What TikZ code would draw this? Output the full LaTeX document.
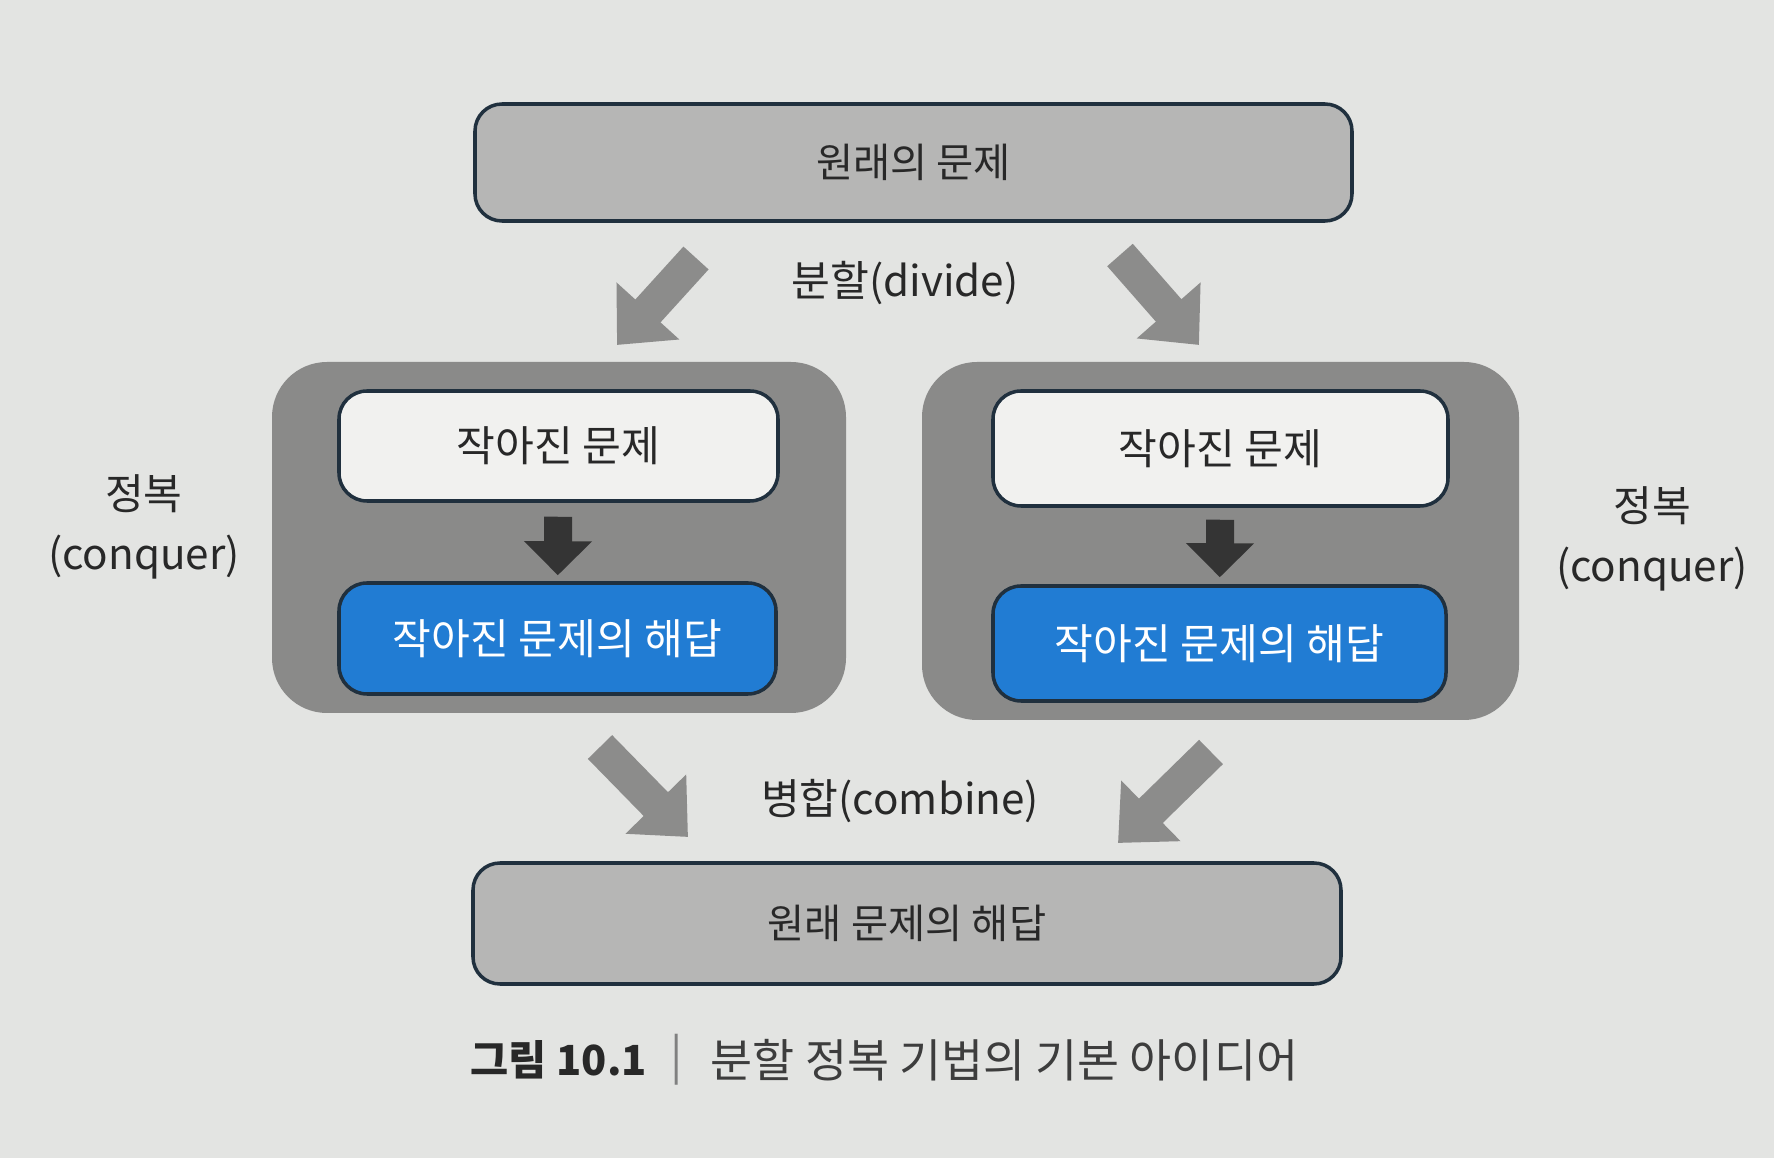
\documentclass[tikz,border=0pt]{standalone}
\usepackage{fontspec}
\setmainfont{Noto Sans CJK KR}
\usetikzlibrary{arrows.meta}

\definecolor{pagebg}{RGB}{227,228,226}
\definecolor{boxgray}{RGB}{182,182,181}
\definecolor{groupgray}{RGB}{138,138,137}
\definecolor{solblue}{RGB}{33,124,211}
\definecolor{edgenavy}{RGB}{32,48,62}
\definecolor{paleface}{RGB}{241,241,239}
\definecolor{fatgray}{RGB}{140,140,139}
\definecolor{darkhead}{RGB}{52,52,52}
\definecolor{inkgray}{RGB}{40,40,40}

\begin{document}
\begin{tikzpicture}[
    mainbox/.style={draw=edgenavy,line width=1pt,fill=boxgray,rounded corners=0.27cm,
        text=inkgray,font=\fontsize{11.5}{14}\selectfont},
    groupbox/.style={fill=groupgray,rounded corners=0.55cm},
    smallbox/.style={draw=edgenavy,line width=1pt,fill=paleface,rounded corners=0.28cm,
        text=inkgray,font=\fontsize{12}{14}\selectfont},
    solbox/.style={draw=edgenavy,line width=1pt,fill=solblue,rounded corners=0.28cm,
        text=white,font=\fontsize{12}{14}\selectfont},
    steplabel/.style={text=inkgray,font=\fontsize{12}{17}\selectfont,align=center},
    fatarrow/.style={fatgray,line width=0.34cm,-{Triangle[length=0.46cm,width=0.82cm]}},
    downarrow/.style={darkhead,line width=0.28cm,-{Triangle[length=0.34cm,width=0.66cm]}}
  ]
    \useasboundingbox (0,0) rectangle (17.74,-11.58);
    \fill[pagebg] (0,0) rectangle (17.74,-11.58);

    \node[mainbox,minimum width=8.77cm,minimum height=1.17cm] (orig)   at (9.135,-1.625) {원래의 문제};

    \node[groupbox,minimum width=5.74cm,minimum height=3.51cm] (grpL)  at (5.59,-5.375) {};
    \node[groupbox,minimum width=5.97cm,minimum height=3.58cm] (grpR)  at (12.205,-5.41) {};

    \node[smallbox,minimum width=4.39cm,minimum height=1.10cm] (smallL) at (5.585,-4.46) {작아진 문제};
    \node[solbox,minimum width=4.37cm,minimum height=1.11cm]   (solL)   at (5.575,-6.385) {작아진 문제의 해답};
    \node[smallbox,minimum width=4.55cm,minimum height=1.15cm] (smallR) at (12.205,-4.485) {작아진 문제};
    \node[solbox,minimum width=4.53cm,minimum height=1.15cm]   (solR)   at (12.195,-6.435) {작아진 문제의 해답};

    \node[mainbox,minimum width=8.68cm,minimum height=1.21cm] (result) at (9.07,-9.235) {원래 문제의 해답};

    % step labels
    \node[steplabel] (divide)   at (9.05,-2.83)  {분할(divide)};
    \node[steplabel] (combine)  at (9.0,-8.01)   {병합(combine)};
    \node[steplabel] (conqL)    at (1.44,-5.27)  {정복\\(conquer)};
    \node[steplabel] (conqR)    at (16.52,-5.39) {정복\\(conquer)};

    % ends of the fat arrows
    \coordinate (divL-s) at (6.96,-2.58);
    \coordinate (divL-e) at (6.17,-3.45);
    \coordinate (divR-s) at (11.20,-2.55);
    \coordinate (divR-e) at (11.99,-3.45);
    \coordinate (comL-s) at (6.00,-7.47);
    \coordinate (comL-e) at (6.88,-8.37);
    \coordinate (comR-s) at (12.11,-7.52);
    \coordinate (comR-e) at (11.18,-8.43);

    \draw[fatarrow] (divL-s) -- (divL-e);
    \draw[fatarrow] (divR-s) -- (divR-e);
    \draw[fatarrow] (comL-s) -- (comL-e);
    \draw[fatarrow] (comR-s) -- (comR-e);

    \draw[downarrow,shorten <=0.14cm,shorten >=0.06cm] (smallL) -- (solL);
    \draw[downarrow,shorten <=0.12cm,shorten >=0.07cm] (smallR) -- (solR);

    % caption
    \node[anchor=west,text=inkgray,font=\fontsize{11.8}{15}\selectfont\bfseries,inner sep=0pt] (capnum) at (4.70,-10.60) {그림 10.1};
    \node[text=gray,font=\fontsize{13}{15}\selectfont,inner sep=0pt] (capbar) at (6.77,-10.60) {|};
    \node[anchor=west,text=inkgray!90,font=\fontsize{13}{15}\selectfont,inner sep=0pt] (captext) at (7.10,-10.60) {분할 정복 기법의 기본 아이디어};
\end{tikzpicture}
\end{document}
